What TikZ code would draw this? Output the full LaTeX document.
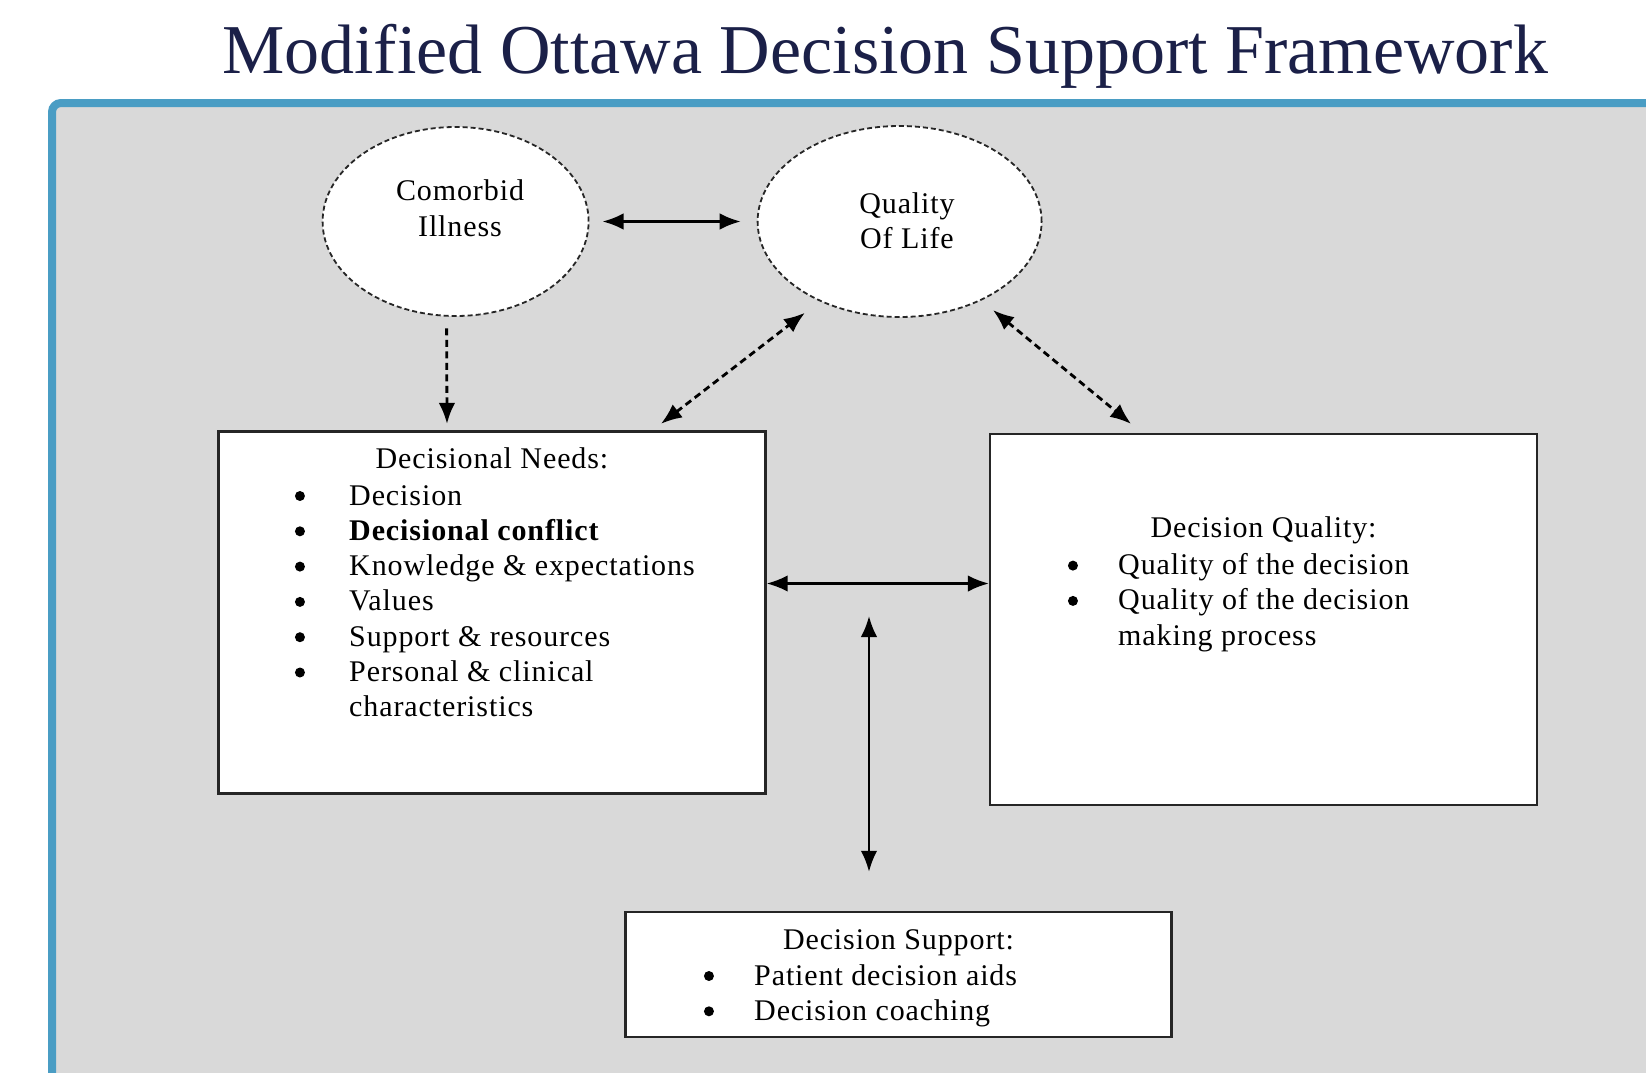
\documentclass[tikz,border=0pt]{standalone}
\usepackage{fontspec}
\setmainfont{Liberation Serif}
\usepackage{tikz}
\usetikzlibrary{arrows.meta,shapes.geometric}

\definecolor{framegray}{HTML}{D9D9D9}
\definecolor{frameblue}{HTML}{4A9DC4}
\definecolor{titlenavy}{RGB}{27,32,72}
\newcommand{\bodyfont}{\fontsize{30}{35.3}\selectfont\addfontfeature{LetterSpace=3}}
\newcommand{\dotmark}{\tikz[baseline={(0pt,-9pt)}]\fill (5pt,0pt) circle (5pt);}

\begin{document}
\begin{tikzpicture}[x=1pt,y=-1pt,>={Latex[length=21pt,width=16.5pt]},font=\bodyfont]
	\tikzstyle{box}=[rectangle,draw=black!85,fill=white,line width=2.2pt,inner sep=0pt]
	\tikzstyle{oval}=[ellipse,draw=black!85,fill=white,line width=1.8pt,dash pattern=on 5pt off 3pt,inner sep=0pt]
	\tikzstyle{txt}=[inner sep=0pt,anchor=base]
	\tikzstyle{list}=[inner sep=0pt,anchor=base west]
	\tikzstyle{solidarrow}=[<->,line width=2.5pt,black]
	\tikzstyle{dasharrow}=[<->,line width=2.8pt,black,dash pattern=on 7pt off 4.5pt]

	\useasboundingbox (0,0) rectangle (1646,1073);
	\clip (0,0) rectangle (1646,1073);
	\draw[line width=8pt,draw=frameblue,fill=framegray,rounded corners=9pt] (52,103) rectangle (1720,1140);

	\node[list,text=titlenavy,font=\fontsize{70}{80}\selectfont] (title) at (222,74) {Modified Ottawa Decision Support Framework};

	\node[oval,minimum width=266pt,minimum height=189pt] (com) at (455.6,221.5) {};
	\node[oval,minimum width=284pt,minimum height=191pt] (qol) at (899.6,221.5) {};
	\node[box,minimum width=547pt,minimum height=362pt] (needs) at (492,612.5) {};
	\node[box,minimum width=547pt,minimum height=371.4pt] (quality) at (1263.5,619.3) {};
	\node[box,minimum width=546pt,minimum height=125.3pt] (support) at (898.5,974.3) {};

	\node[txt] (comtext) at (460,200.7) {\begin{tabular}[t]{@{}c@{}}Comorbid\\Illness\end{tabular}};
	\node[txt] (qoltext) at (907,213) {\begin{tabular}[t]{@{}c@{}}Quality\\Of Life\end{tabular}};

	\node[txt] (needshead) at (492,468.3) {Decisional Needs:};
	\node[list] (needslist) at (294.75,505) {\begin{tabular}[t]{@{}p{54.25pt}@{}l@{}}
		\dotmark & Decision\\
		\dotmark & \textbf{Decisional conflict}\\
		\dotmark & Knowledge \& expectations\\
		\dotmark & Values\\
		\dotmark & Support \& resources\\
		\dotmark & Personal \& clinical\\
		         & characteristics
	\end{tabular}};

	\node[txt] (qualityhead) at (1263.5,537.6) {Decision Quality:};
	\node[list] (qualitylist) at (1067.75,574.6) {\begin{tabular}[t]{@{}p{50.25pt}@{}l@{}}
		\dotmark & Quality of the decision\\
		\dotmark & Quality of the decision\\
		         & making process
	\end{tabular}};

	\node[txt] (supporthead) at (898.5,949.6) {Decision Support:};
	\node[list] (supportlist) at (703.75,985) {\begin{tabular}[t]{@{}p{50.25pt}@{}l@{}}
		\dotmark & Patient decision aids\\
		\dotmark & Decision coaching
	\end{tabular}};

	\coordinate (hub) at (869,616);

	\draw[solidarrow] ([xshift=13pt]com.east) -- ([xshift=-16pt]qol.west);
	\draw[dasharrow,<-] ([xshift=-45pt,yshift=6.5pt]needs.north) -- ([xshift=-9pt,yshift=-7pt]com.south);
	\draw[dasharrow,shorten <=10.8pt,shorten >=18.6pt] ([xshift=160.4pt]needs.north) -- (qol.225);
	\draw[dasharrow,shorten <=15pt,shorten >=13.5pt] (qol.316) -- ([xshift=-122pt]quality.north);
	\draw[solidarrow] ([yshift=29pt]needs.east) -- ([yshift=35.8pt]quality.west);
	\draw[solidarrow] (hub) -- ([xshift=-29.5pt,yshift=38.7pt]support.north);
	% \draw[solidarrow] (needs) -- (support);
\end{tikzpicture}
\end{document}
